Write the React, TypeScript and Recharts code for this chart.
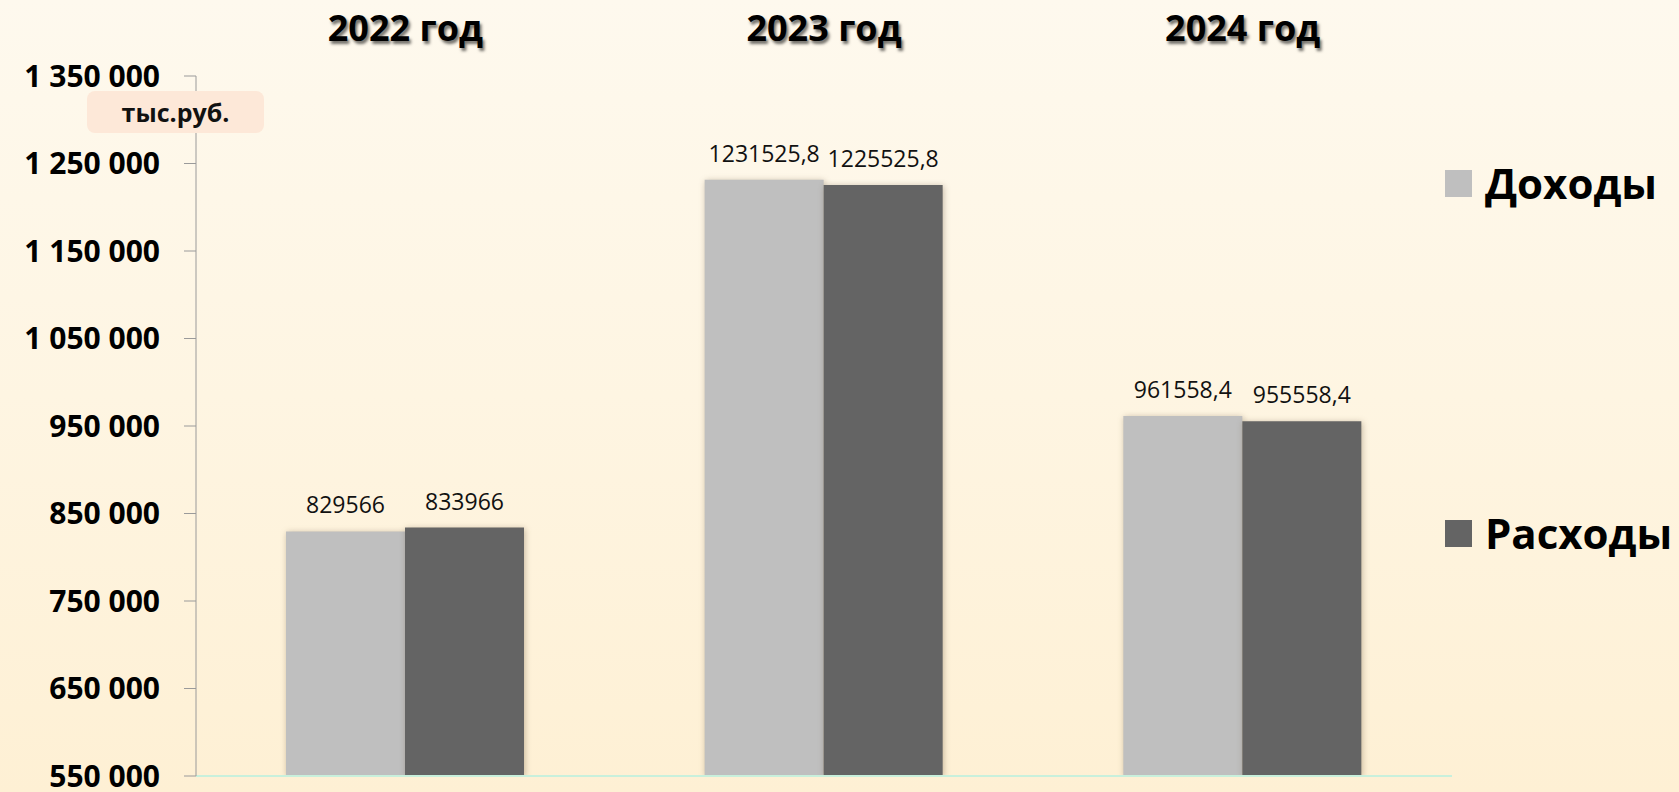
import React from 'react';
import { BarChart, Bar, XAxis, YAxis, LabelList, ReferenceLine } from 'recharts';

const years = ['2022 год', '2023 год', '2024 год'];
const income = [829566, 1231525.8, 961558.4];
const expenses = [833966, 1225525.8, 955558.4];
const yTicks = [550000, 650000, 750000, 850000, 950000, 1050000, 1150000, 1250000, 1350000];

const series = [
  { key: 'income', name: 'Доходы', color: '#bfbfbf' },
  { key: 'expenses', name: 'Расходы', color: '#646464' },
];

const data = years.map((year, i) => ({ year, income: income[i], expenses: expenses[i] }));

const FONT = '"Open Sans", "DejaVu Sans", sans-serif';

const fmtTick = (v: number) => String(v).replace(/\B(?=(\d{3})+(?!\d))/g, ' ');
const fmtLabel = (v: number) => String(v).replace('.', ',');

const YearTick = ({ x, y, payload }: any) => (
  <text
    x={x}
    y={y}
    textAnchor="middle"
    fontFamily={FONT}
    fontWeight={700}
    fontSize={36}
    fill="#000"
    style={{ textShadow: '2px 3px 3px rgba(0,0,0,0.55)' }}
  >
    {payload.value}
  </text>
);

const App = () => {
  return (
    <div
      style={{
        position: 'fixed',
        left: 0,
        top: 0,
        width: 1679,
        height: 792,
        background: 'linear-gradient(to bottom, #fef9ee 0%, #fef5e2 50%, #fef0d4 100%)',
        fontFamily: FONT,
      }}
    >
      <style>{`.recharts-bar-rectangle path { filter: drop-shadow(1px 1px 3px rgba(90,70,40,0.35)); }`}</style>
      <BarChart
        width={1679}
        height={792}
        data={data}
        margin={{ top: 0, right: 227, bottom: 16, left: 0 }}
        barGap={0}
        barCategoryGap={90}
      >
        <XAxis
          dataKey="year"
          orientation="top"
          height={76}
          axisLine={false}
          tickLine={false}
          tickSize={0}
          tickMargin={35}
          tick={<YearTick />}
        />
        <YAxis
          width={196}
          domain={[550000, 1350000]}
          ticks={yTicks}
          interval={0}
          allowDataOverflow
          tickFormatter={fmtTick}
          tickSize={12}
          tickMargin={24}
          axisLine={{ stroke: '#9a9a9a' }}
          tickLine={{ stroke: '#9a9a9a' }}
          tick={{ fontFamily: FONT, fontWeight: 700, fontSize: 30, fill: '#000' }}
        />
        <ReferenceLine y={550000} stroke="#c8f0dc" strokeWidth={2} />
        {series.map((s) => (
          <Bar key={s.key} dataKey={s.key} name={s.name} fill={s.color} isAnimationActive={false}>
            <LabelList
              dataKey={s.key}
              position="top"
              offset={18}
              formatter={fmtLabel}
              style={{ fontFamily: FONT, fontSize: 23, fill: '#111' }}
            />
          </Bar>
        ))}
      </BarChart>

      <div
        style={{
          position: 'absolute',
          left: 87,
          top: 91,
          width: 177,
          height: 42,
          borderRadius: 8,
          background: '#fde8d8',
          display: 'flex',
          alignItems: 'center',
          justifyContent: 'center',
          fontWeight: 700,
          fontSize: 25,
          color: '#111',
        }}
      >
        тыс.руб.
      </div>

      {series.map((s, i) => (
        <div
          key={s.key}
          style={{
            position: 'absolute',
            left: 1445,
            top: 160 + i * 350,
            height: 46,
            display: 'flex',
            alignItems: 'center',
          }}
        >
          <div style={{ width: 27, height: 27, background: s.color, marginRight: 13 }} />
          <span style={{ fontWeight: 700, fontSize: 42, color: '#000', lineHeight: '46px' }}>{s.name}</span>
        </div>
      ))}
    </div>
  );
};

export default App;
